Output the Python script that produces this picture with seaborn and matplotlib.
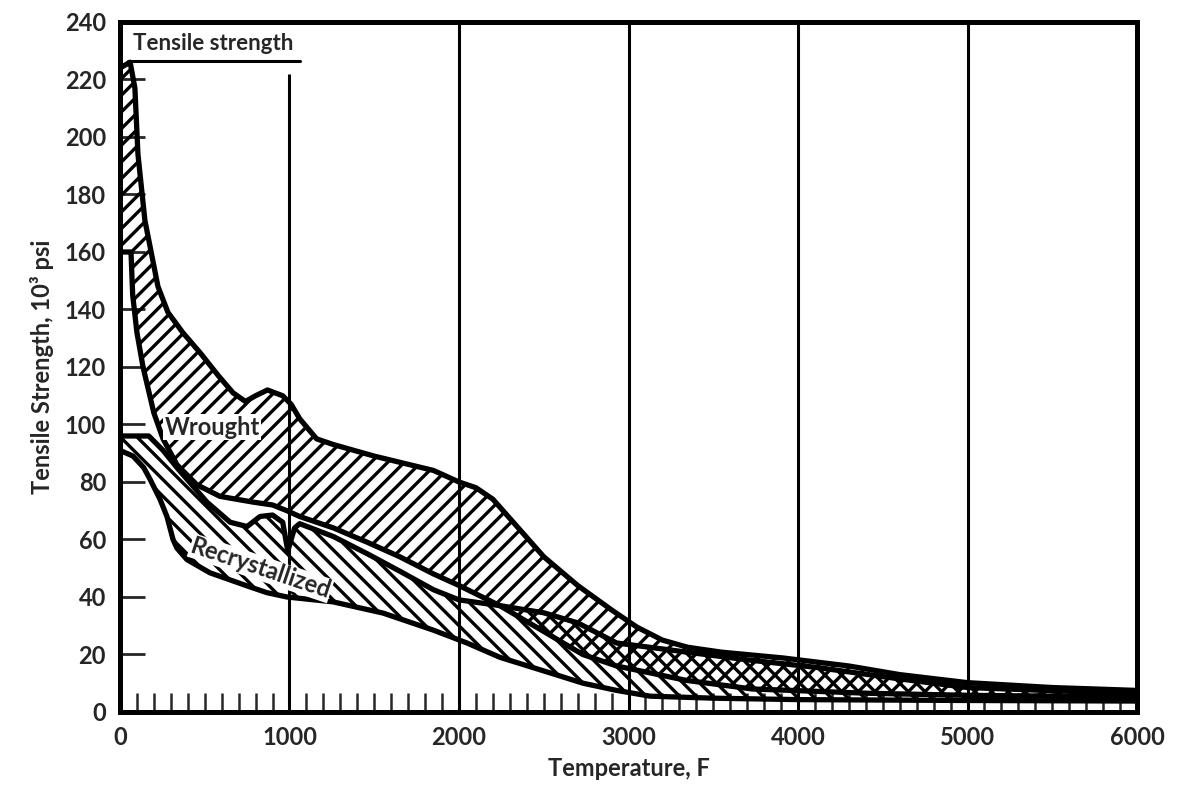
import numpy as np
import matplotlib
matplotlib.use("Agg")
import matplotlib.pyplot as plt
import seaborn as sns

# Curves: temperature (F) vs tensile strength (10^3 psi)
wrought_hi_t = [0, 60, 88, 106, 147, 224, 283, 370, 472, 580, 667, 740, 800, 870, 960, 1010,
                1060, 1160, 1260, 1500, 1850, 2000, 2100, 2200, 2350, 2500, 2700, 2900, 3050,
                3200, 3350, 3550, 3910, 4300, 4600, 5000, 5500, 6000]
wrought_hi_v = [224, 226, 217, 194, 171, 148, 139, 132, 125, 117, 111, 108, 110, 112, 110, 107,
                102, 95, 93, 89, 84, 80, 78, 74, 64, 54, 44, 35.5, 29.5,
                25, 22.5, 20.8, 18.8, 16, 13, 10.2, 8.5, 7.5]

wrought_lo_t = [0, 65, 75, 100, 136, 200, 254, 336, 454, 590, 785, 900, 985, 1060, 1260, 1460,
                1650, 1850, 2000, 2240, 2500, 2730, 2930, 3340, 3730, 4420, 5000, 6000]
wrought_lo_v = [160, 160, 145, 132, 120, 104, 95, 86, 79, 75, 73, 72, 70, 68, 64, 59,
                54, 48, 44, 37, 28, 20, 16, 11, 8, 6.5, 5.8, 5.2]

recryst_hi_t = [0, 170, 254, 336, 395, 513, 650, 750, 826, 900, 960, 990, 1030, 1060, 1260,
                1460, 1650, 1850, 2000, 2240, 2500, 2700, 2930, 3320, 3720, 4110, 4600, 5000, 6000]
recryst_hi_v = [96, 96, 91, 85, 81, 73, 66, 64.5, 68, 68.5, 66, 56, 64, 65.5, 61,
                55, 49, 42.5, 39, 37, 34.5, 31, 24, 21, 18, 15.5, 11.5, 8.5, 6.3]

recryst_lo_t = [0, 77, 140, 177, 236, 277, 313, 336, 395, 531, 767, 867, 985, 1257, 1552,
                1847, 2047, 2242, 2537, 2732, 2930, 3127, 3500, 4000, 5000, 6000]
recryst_lo_v = [91, 89, 85, 81, 74, 68, 60, 57, 53, 48.4, 43.5, 41.5, 40, 38.3, 34.4,
                28.5, 24, 19, 13.6, 10, 7.5, 5.5, 4.8, 4.3, 4, 3.8]

grid_temps = [1000, 2000, 3000, 4000, 5000]
grid_tops = [222, 240, 240, 240, 240]

sns.set_theme(style="white")
plt.rcParams["font.family"] = ["Lato", "DejaVu Sans"]
plt.rcParams["font.weight"] = "bold"
plt.rcParams["hatch.linewidth"] = 2.4
plt.rcParams["hatch.color"] = "black"

fig = plt.figure(figsize=(11.95, 7.94), dpi=100)
ax = fig.add_axes([0.1004, 0.1033, 0.8511, 0.869])

# hatched bands (overlap gives the cross-hatch)
ax.fill(np.r_[wrought_hi_t, wrought_lo_t[::-1]], np.r_[wrought_hi_v, wrought_lo_v[::-1]],
        facecolor="none", edgecolor="black", hatch="//", linewidth=0, zorder=1)
ax.fill(np.r_[recryst_hi_t, recryst_lo_t[::-1]], np.r_[recryst_hi_v, recryst_lo_v[::-1]],
        facecolor="none", edgecolor="black", hatch="\\\\", linewidth=0, zorder=1)

# boundary curves
for t, v in [(wrought_hi_t, wrought_hi_v), (wrought_lo_t, wrought_lo_v),
             (recryst_hi_t, recryst_hi_v), (recryst_lo_t, recryst_lo_v)]:
    sns.lineplot(x=t, y=v, ax=ax, color="black", linewidth=3.8, estimator=None,
                 sort=False, solid_joinstyle="round", solid_capstyle="round", zorder=3)

ax.vlines(grid_temps, 0, grid_tops, color="black", linewidth=2.2, zorder=2)

ax.set_xlim(0, 6000)
ax.set_ylim(0, 240)
ax.set_xticks(range(0, 6001, 1000))
ax.set_xticks(np.arange(100, 6000, 100), minor=True)
ax.set_yticks(range(0, 241, 20))
ax.tick_params(axis="x", which="both", direction="in", length=14, width=1.8,
               bottom=True, top=False, pad=10, labelsize=17)
ax.tick_params(axis="y", which="major", direction="in", length=18, width=2,
               left=True, right=False, pad=10, labelsize=17)
for sp in ax.spines.values():
    sp.set_linewidth(3.6)
    sp.set_color("black")

ax.set_xlabel("Temperature, F", fontsize=17, fontweight="bold", labelpad=6)
ax.set_ylabel("Tensile Strength, 10³ psi", fontsize=17, fontweight="bold", labelpad=8)

ax.text(75, 232.5, "Tensile strength", fontsize=16, fontweight="bold", va="center", ha="left")
ax.plot([45, 1060], [226.5, 226.5], color="black", linewidth=2.2)

ax.text(543, 99, "Wrought", fontsize=17, fontweight="bold", ha="center", va="center",
        bbox=dict(facecolor="white", edgecolor="none", pad=1), zorder=4)
ax.text(830, 50, "Recrystallized", fontsize=17, fontweight="bold", ha="center", va="center",
        rotation=-18.5, rotation_mode="anchor",
        bbox=dict(facecolor="white", edgecolor="none", pad=0.5), zorder=4)

fig.savefig("out.png", dpi=100)
